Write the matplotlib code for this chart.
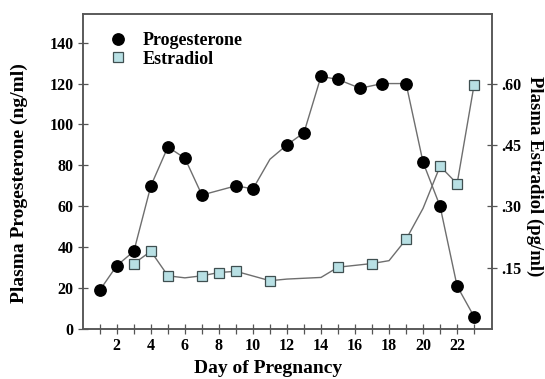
import numpy as np
import matplotlib.pyplot as plt
from matplotlib.ticker import FixedLocator, FuncFormatter

# Plasma progesterone (ng/ml) by day of pregnancy
prog_day = [1, 2, 3, 4, 5, 6, 7, 9, 10, 11, 12, 13, 14, 15, 16.3, 17.6, 19, 20, 21, 22, 23]
prog_val = [19, 31, 38, 70, 89, 83.5, 65.5, 70, 68.5, 83, 90, 96, 123.5, 122, 117.7, 120, 120, 81.5, 60, 21, 6]
prog_unmarked = [11]

# Plasma estradiol (pg/ml) by day of pregnancy
estr_day = [3, 4, 5, 6, 7, 8, 9, 11, 12, 14, 15, 17, 18, 19, 20, 21, 22, 23]
estr_val = [0.160, 0.190, 0.130, 0.125, 0.130, 0.138, 0.141, 0.118, 0.122, 0.126,
            0.151, 0.160, 0.167, 0.219, 0.295, 0.398, 0.355, 0.597]
estr_unmarked = [6, 12, 14, 18, 20]

left_ticks = [0, 20, 40, 60, 80, 100, 120, 140]
right_ticks = [0.15, 0.30, 0.45, 0.60]
day_ticks = list(range(1, 24))

serif = ['Liberation Serif', 'DejaVu Serif']
line_col = '#6e6e6e'
spine_col = '#555555'

fig = plt.figure(figsize=(5.45, 3.79), dpi=100)
ax = fig.add_axes([0.152, 0.132, 0.751, 0.831])
ax2 = ax.twinx()

prog_marks = [i for i, d in enumerate(prog_day) if d not in prog_unmarked]
estr_marks = [i for i, d in enumerate(estr_day) if d not in estr_unmarked]

hp, = ax.plot(prog_day, prog_val, color=line_col, lw=1.0, marker='o', ms=8.2,
              mfc='black', mec='black', markevery=prog_marks, label='Progesterone', zorder=3)
he, = ax2.plot(estr_day, estr_val, color=line_col, lw=1.0, marker='s', ms=7.6,
               mfc='#b8e0e4', mec='#3f4f50', mew=0.9, markevery=estr_marks, label='Estradiol')

ax.set_xlim(0, 24.06)
ax.set_ylim(0, 154)
ax2.set_ylim(0, 0.77)

ax.xaxis.set_major_locator(FixedLocator(day_ticks))
ax.xaxis.set_major_formatter(FuncFormatter(lambda v, p: f'{int(v)}' if int(v) % 2 == 0 else ''))
ax.set_yticks(left_ticks)
ax2.set_yticks(right_ticks)
ax2.yaxis.set_major_formatter(FuncFormatter(lambda v, p: f'{v:.2f}'.lstrip('0')))

for a in (ax, ax2):
    a.tick_params(direction='inout', length=7, width=0.9, color=spine_col, pad=3)
    for s in a.spines.values():
        s.set_color(spine_col)
        s.set_linewidth(1.1)
    for lab in a.get_xticklabels() + a.get_yticklabels():
        lab.set_fontfamily(serif)
        lab.set_fontweight('bold')
        lab.set_fontsize(11.5)

ax.set_xlabel('Day of Pregnancy', family=serif, weight='bold', fontsize=14, va='center')
ax.set_ylabel('Plasma Progesterone (ng/ml)', family=serif, weight='bold', fontsize=14, va='center')
ax2.set_ylabel('Plasma Estradiol (pg/ml)', family=serif, weight='bold', fontsize=13.5,
               rotation=270, va='center')
ax.xaxis.set_label_coords(0.452, -0.125)
ax.yaxis.set_label_coords(-0.154, 0.463)
ax2.yaxis.set_label_coords(1.104, 0.486)

leg = ax.legend([hp, he], ['Progesterone', 'Estradiol'], loc='upper left',
                bbox_to_anchor=(0.028, 0.995), frameon=False, handlelength=0.8,
                handletextpad=1.0, labelspacing=0.1,
                prop={'family': serif, 'weight': 'bold', 'size': 13})
for h in leg.legend_handles:
    h.set_linestyle('none')

fig.savefig('out.png', dpi=100)
